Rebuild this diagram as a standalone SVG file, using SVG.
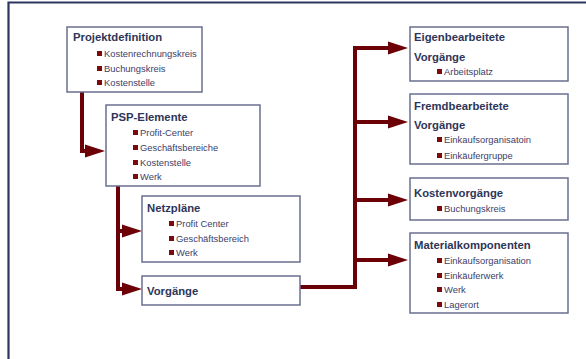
<svg xmlns="http://www.w3.org/2000/svg" width="586" height="359" viewBox="0 0 586 359">
  <style>
    .box { fill: #ffffff; stroke: #6a6f8e; stroke-width: 1.5; }
    .title { font-family: "Liberation Sans", Arial, sans-serif; font-size: 11.3px; font-weight: bold; fill: #2e3558; }
    .item { font-family: "Liberation Sans", Arial, sans-serif; font-size: 9.4px; fill: #3d4068; }
    .bullet { fill: #7a0a0e; }
    .conn { fill: none; stroke: #6b0006; stroke-width: 4; }
  </style>
  <defs>
    <marker id="head" markerUnits="userSpaceOnUse" viewBox="0 0 22 16" markerWidth="22" markerHeight="16" refX="2" refY="8" orient="auto">
      <path d="M0,1.5 L20,8 L0,14.5 z" fill="#6b0006"/>
    </marker>
  </defs>

  <!-- page frame -->
  <path d="M8.5,359 V2.5 H586" fill="none" stroke="#2e3660" stroke-width="2.2"/>

  <!-- connectors -->
  <g id="connectors">
    <path class="conn" d="M82,92 V151 H87" marker-end="url(#head)"/>
    <path class="conn" d="M118,186 V289 H124" marker-end="url(#head)"/>
    <path class="conn" d="M118,231 H124" marker-end="url(#head)"/>
    <path class="conn" d="M300,287 H355 V48 H390" marker-end="url(#head)"/>
    <path class="conn" d="M355,122 H390" marker-end="url(#head)"/>
    <path class="conn" d="M355,200 H390" marker-end="url(#head)"/>
    <path class="conn" d="M355,260 H390" marker-end="url(#head)"/>
  </g>

  <g id="projektdefinition">
    <rect class="box" x="67" y="27" width="135" height="65"/>
    <text class="title" x="73" y="41">Projektdefinition</text>
    <rect class="bullet" x="97" y="51" width="5" height="5"/>
    <text class="item" x="104" y="57">Kostenrechnungskreis</text>
    <rect class="bullet" x="97" y="66" width="5" height="5"/>
    <text class="item" x="104" y="72">Buchungskreis</text>
    <rect class="bullet" x="97" y="80" width="5" height="5"/>
    <text class="item" x="104" y="86">Kostenstelle</text>
  </g>

  <g id="psp-elemente">
    <rect class="box" x="106" y="105" width="154" height="81"/>
    <text class="title" x="111" y="121">PSP-Elemente</text>
    <rect class="bullet" x="133" y="130" width="5" height="5"/>
    <text class="item" x="140" y="136">Profit-Center</text>
    <rect class="bullet" x="133" y="145" width="5" height="5"/>
    <text class="item" x="140" y="151">Geschäftsbereiche</text>
    <rect class="bullet" x="133" y="160" width="5" height="5"/>
    <text class="item" x="140" y="166">Kostenstelle</text>
    <rect class="bullet" x="133" y="174" width="5" height="5"/>
    <text class="item" x="140" y="180">Werk</text>
  </g>

  <g id="netzplaene">
    <rect class="box" x="142" y="196" width="158" height="66"/>
    <text class="title" x="147" y="212">Netzpläne</text>
    <rect class="bullet" x="169" y="221" width="5" height="5"/>
    <text class="item" x="176" y="227">Profit Center</text>
    <rect class="bullet" x="169" y="236" width="5" height="5"/>
    <text class="item" x="176" y="242">Geschäftsbereich</text>
    <rect class="bullet" x="169" y="250" width="5" height="5"/>
    <text class="item" x="176" y="256">Werk</text>
  </g>

  <g id="vorgaenge">
    <rect class="box" x="142" y="276" width="158" height="29"/>
    <text class="title" x="147" y="295">Vorgänge</text>
  </g>

  <g id="eigenbearbeitete-vorgaenge">
    <rect class="box" x="410" y="27" width="158" height="54"/>
    <text class="title" x="414" y="41">Eigenbearbeitete</text>
    <text class="title" x="414" y="61">Vorgänge</text>
    <rect class="bullet" x="437" y="69" width="5" height="5"/>
    <text class="item" x="444" y="75">Arbeitsplatz</text>
  </g>

  <g id="fremdbearbeitete-vorgaenge">
    <rect class="box" x="410" y="94" width="158" height="70"/>
    <text class="title" x="414" y="110">Fremdbearbeitete</text>
    <text class="title" x="414" y="129">Vorgänge</text>
    <rect class="bullet" x="437" y="137" width="5" height="5"/>
    <text class="item" x="444" y="143">Einkaufsorganisatoin</text>
    <rect class="bullet" x="437" y="153" width="5" height="5"/>
    <text class="item" x="444" y="159">Einkäufergruppe</text>
  </g>

  <g id="kostenvorgaenge">
    <rect class="box" x="410" y="178" width="158" height="42"/>
    <text class="title" x="414" y="197">Kostenvorgänge</text>
    <rect class="bullet" x="437" y="206" width="5" height="5"/>
    <text class="item" x="444" y="212">Buchungskreis</text>
  </g>

  <g id="materialkomponenten">
    <rect class="box" x="410" y="233" width="158" height="80"/>
    <text class="title" x="414" y="249">Materialkomponenten</text>
    <rect class="bullet" x="437" y="258" width="5" height="5"/>
    <text class="item" x="444" y="264">Einkaufsorganisation</text>
    <rect class="bullet" x="437" y="273" width="5" height="5"/>
    <text class="item" x="444" y="279">Einkäuferwerk</text>
    <rect class="bullet" x="437" y="287" width="5" height="5"/>
    <text class="item" x="444" y="293">Werk</text>
    <rect class="bullet" x="437" y="302" width="5" height="5"/>
    <text class="item" x="444" y="308">Lagerort</text>
  </g>
</svg>
